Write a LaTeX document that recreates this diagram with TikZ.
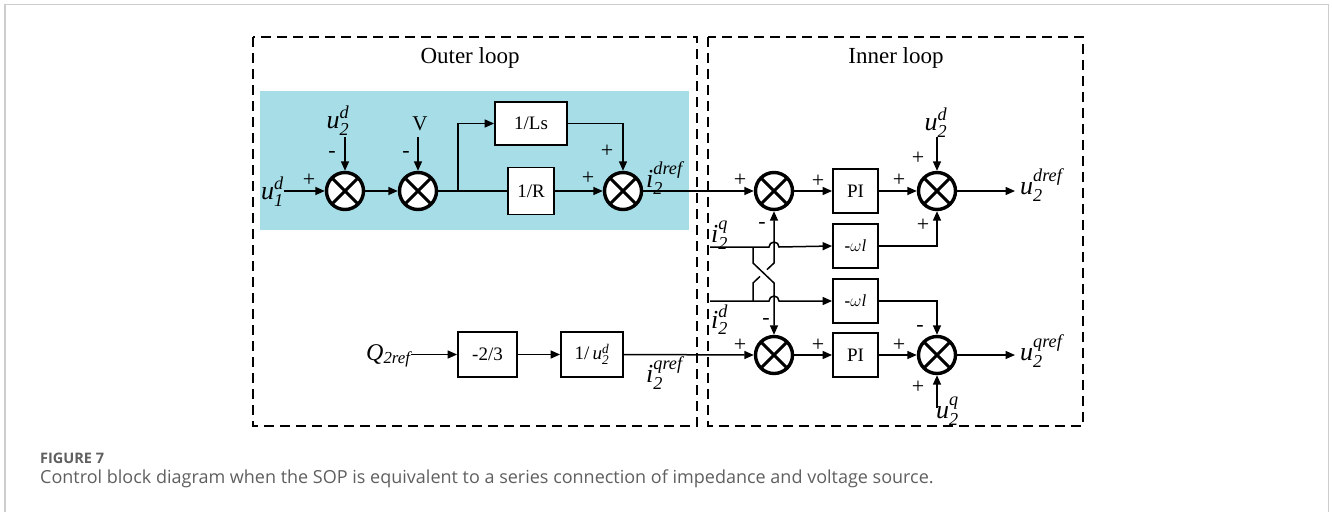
\documentclass[tikz,border=0pt]{standalone}
\usepackage{amsmath}
\usepackage{fontspec}
\setmainfont{Liberation Serif}
\newfontfamily\capfont{Open Sans}
\usetikzlibrary{arrows.meta}
\definecolor{cyanbg}{RGB}{166,221,230}
\definecolor{framegray}{RGB}{205,205,205}
\definecolor{capgray}{RGB}{95,95,95}
\begin{document}
\begin{tikzpicture}[x=1pt,y=-1pt,
  conn/.style={line width=1.5pt},
  arr/.style={conn,-{Triangle[length=9.5pt,width=8pt]}},
  sumnode/.style={circle,draw,fill=white,line width=3.4pt,minimum size=37pt,inner sep=0pt,
    path picture={\draw[line width=3pt]
      (path picture bounding box.north west)--(path picture bounding box.south east)
      (path picture bounding box.north east)--(path picture bounding box.south west);}},
  blk/.style={draw,fill=white,line width=1.8pt,inner sep=0pt,font=\fontsize{19}{20}\selectfont},
  sgn/.style={font=\fontsize{22}{22}\selectfont,inner sep=0pt},
  lbl/.style={inner sep=0pt,font=\fontsize{26}{28}\selectfont},
  region/.style={draw,dash pattern=on 10pt off 6pt,line width=1.5pt},
  title/.style={inner sep=0pt,font=\fontsize{23}{25}\selectfont},
]
\useasboundingbox (0,0) rectangle (1332,512);
% page frame
\draw[framegray,line width=1.2pt] (5,512) -- (5,4.5) -- (1328.5,4.5) -- (1328.5,512);

% background and loop regions
\fill[cyanbg] (260,91) rectangle (689,230);
\draw[region] (253,37) rectangle (697,426);
\draw[region] (708,37) rectangle (1083,426);
\node[title] (tout) at (470,57.5) {Outer loop};
\node[title] (tin) at (896,57.5) {Inner loop};

% ---------- outer loop, d axis ----------
\node[sumnode] (s1) at (345,191) {};
\node[sumnode] (s2) at (418,191) {};
\node[sumnode] (s3) at (623,191) {};
\node[blk,minimum width=72pt,minimum height=43pt] (Ls) at (531,123.5) {1/Ls};
\node[blk,minimum width=46pt,minimum height=47pt] (R) at (531,191) {1/R};
\coordinate (br) at (458,191);

\node[lbl,anchor=base west] (u1) at (261,199) {$\textit{u}^{\textit{d}}_{\textit{1}}$};
\node[lbl,anchor=base] (u2a) at (338,128) {$\textit{u}^{\textit{d}}_{\textit{2}}$};
\node[inner sep=0pt,anchor=base,font=\fontsize{21}{22}\selectfont] (V) at (420,130) {V};
\node[lbl,anchor=base west] (idref) at (646,187) {$\textit{i}^{\textit{dref}}_{\textit{2}}$};
\coordinate (t1) at (345,137);
\coordinate (t2) at (418,137);

\draw[arr] (u1.east |- s1) -- (s1.west);
\draw[arr] (t1) -- (s1.north);
\draw[arr] (s1.east) -- (s2.west);
\draw[arr] (t2) -- (s2.north);
\draw[conn] (s2.east) -- (br);
\draw[conn] (br) -- (R.west);
\draw[arr] (br) |- (Ls.west);
\draw[arr] (R.east) -- (s3.west);
\draw[arr] (Ls.east) -| (s3.north);

\node[sgn] (p1) at (309,180) {+};
\node[sgn] (m1) at (332,154) {-};
\node[sgn] (m2) at (406,154) {-};
\node[sgn] (p2) at (607,151) {+};
\node[sgn] (p3) at (588,178) {+};

% ---------- outer loop, q axis ----------
\node[lbl,anchor=base west,font=\fontsize{24}{26}\selectfont] (Q) at (366,360) {\textit{Q}$_{\textit{2ref}}$};
\node[blk,minimum width=59pt,minimum height=45pt] (B1) at (487.5,354.5) {-2/3};
\node[blk,minimum width=62pt,minimum height=45pt] (B2) at (592,354.5) {1/\,$\textit{u}^{\textit{d}}_{\textit{2}}$};
\node[lbl,anchor=base west] (iqref) at (646,382) {$\textit{i}^{\textit{qref}}_{\textit{2}}$};

\draw[arr] (Q.east |- B1) -- (B1.west);
\draw[arr] (B1.east) -- (B2.west);

% ---------- inner loop ----------
\node[sumnode] (s4) at (774,191) {};
\node[blk,minimum width=45pt,minimum height=44pt] (PI1) at (855.5,191) {PI};
\node[sumnode] (s5) at (937,191) {};
\node[blk,minimum width=45pt,minimum height=44pt,font=\fontsize{17}{18}\selectfont] (W1) at (855.5,246) {\textbf{-}$\omega$\textit{l}};
\node[blk,minimum width=45pt,minimum height=44pt,font=\fontsize{17}{18}\selectfont] (W2) at (855.5,301) {\textbf{-}$\omega$\textit{l}};
\node[sumnode] (s6) at (774,355) {};
\node[blk,minimum width=45pt,minimum height=44pt] (PI2) at (855.5,355) {PI};
\node[sumnode] (s7) at (937,355) {};

\node[lbl,anchor=base] (u2b) at (936,130) {$\textit{u}^{\textit{d}}_{\textit{2}}$};
\node[lbl,anchor=base west] (udref) at (1020,194) {$\textit{u}^{\textit{dref}}_{\textit{2}}$};
\node[lbl,anchor=base west] (uqref) at (1020,360) {$\textit{u}^{\textit{qref}}_{\textit{2}}$};
\node[lbl,anchor=base west] (u2q) at (936,418) {$\textit{u}^{\textit{q}}_{\textit{2}}$};
\node[lbl,anchor=base west] (iq) at (711,242) {$\textit{i}^{\textit{q}}_{\textit{2}}$};
\node[lbl,anchor=base west] (id) at (711,328) {$\textit{i}^{\textit{d}}_{\textit{2}}$};

\coordinate (t3) at (937,137);
\coordinate (t4) at (937,408);
\coordinate (o1) at (1015,191);
\coordinate (o2) at (1015,355);
\coordinate (qin) at (710,247);
\coordinate (din) at (710,301);
\coordinate (jq) at (753,247);
\coordinate (jd) at (753,301);

\draw[arr] (s3.east) -- (s4.west);
\draw[arr] (s4.east) -- (PI1.west);
\draw[arr] (PI1.east) -- (s5.west);
\draw[arr] (t3) -- (s5.north);
\draw[arr] (s5.east) -- (o1);
\draw[arr] (W1.east) -| (s5.south);

\draw[arr] (B2.east) -- (s6.west);
\draw[arr] (s6.east) -- (PI2.west);
\draw[arr] (PI2.east) -- (s7.west);
\draw[arr] (W2.east) -| (s7.north);
\draw[arr] (t4) -- (s7.south);
\draw[arr] (s7.east) -- (o2);

% cross-coupling feeds with line hops
\draw[arr] (qin) -- (769,247) arc[start angle=180,end angle=360,radius=5] -- (W1.west);
\draw[arr] (din) -- (769,301) arc[start angle=180,end angle=360,radius=5] -- (W2.west);
\draw[arr] (jq) -- (753,263) -- (774,283) -- (s6.north);
\draw[arr] (jd) -- (753,283) -- (760,276.4) (767,269.6) -- (774,263) -- (s4.south);

\node[sgn] (p4) at (740,180) {+};
\node[sgn] (p5) at (818,181) {+};
\node[sgn] (p6) at (899,180) {+};
\node[sgn] (p7) at (918,158) {+};
\node[sgn] (p8) at (923,225) {+};
\node[sgn] (m3) at (762,225) {-};
\node[sgn] (m4) at (766,321) {-};
\node[sgn] (p9) at (740,345) {+};
\node[sgn] (p10) at (818,345) {+};
\node[sgn] (p11) at (899,345) {+};
\node[sgn] (m5) at (920,328) {-};
\node[sgn] (p12) at (918,387) {+};

% caption
\node[anchor=base west,inner sep=0pt,text=capgray,font=\capfont\bfseries\fontsize{14.5}{16}\selectfont] (fig) at (40,463) {FIGURE 7};
\node[anchor=base west,inner sep=0pt,text=capgray,font=\capfont\fontsize{18}{19}\selectfont] (cap) at (40,483) {Control block diagram when the SOP is equivalent to a series connection of impedance and voltage source.};
\end{tikzpicture}
\end{document}
